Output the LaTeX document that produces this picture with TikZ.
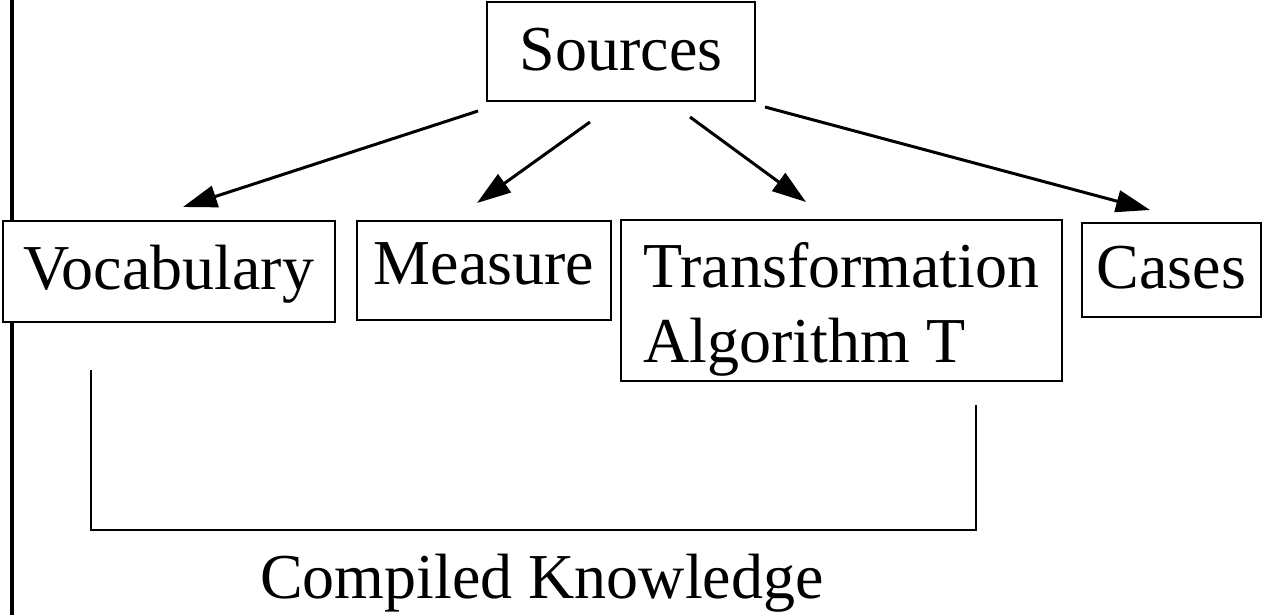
\documentclass[tikz,border=0pt]{standalone}
\usepackage{fontspec}
\setmainfont{Liberation Serif}
\usetikzlibrary{arrows.meta,calc}

\tikzset{
  box/.style={draw, line width=1.3pt, fill=white, outer sep=0pt, inner sep=0pt,
    font=\fontsize{32}{37.5}\selectfont, text height=21pt},
  feed/.style={line width=1.5pt, -{Triangle[length=17pt,width=11pt]}},
  brace/.style={line width=1.2pt},
  rail/.style={line width=2pt},
}

\begin{document}
\begin{tikzpicture}[x=0.5pt, y=-0.5pt]
  \useasboundingbox (0,0) rectangle (1262,615);

  % rail along the left edge
  \coordinate (railtop) at (12,0);
  \coordinate (railbot) at (12,615);
  \draw[rail] (railtop) -- (railbot);

  % source and the four derived parts
  \node[box, minimum width=134pt, minimum height=49.5pt, text depth=1.5pt]
    (src) at (621,51.5) {Sources};
  \node[box, minimum width=166pt, minimum height=50.5pt, text depth=3pt]
    (voc) at (169,271.5) {Vocabulary};
  \node[box, minimum width=127pt, minimum height=49.5pt, text depth=7pt]
    (meas) at (484,270.5) {Measure};
  \node[box, minimum width=220.5pt, minimum height=80.5pt, text height=, text depth=]
    (trans) at (841.5,300.5)
    {\raisebox{-4.5pt}[\height][\depth]{\begin{tabular}{@{}l@{}}Transformation\\Algorithm T\end{tabular}}};
  \node[box, minimum width=89.5pt, minimum height=47pt, text depth=2.5pt]
    (cases) at (1171.5,270) {Cases};

  % arrows from the source
  \draw[feed] ($(src.south)+(-143,10)$) -- ($(voc.north)+(14,-14)$);
  \draw[feed] ($(src.south)+(-31,21)$) -- ($(meas.north)+(-7,-18)$);
  \draw[feed] ($(src.south)+(69,16)$) -- ($(trans.north)+(-35.5,-18)$);
  \draw[feed] ($(src.south)+(144,6)$) -- ($(cases.north)+(-21.5,-13)$);

  % bracket grouping the compiled parts
  \coordinate (kl) at ($(voc.south)+(-78,48)$);
  \coordinate (kr) at ($(trans.south)+(134.5,24)$);
  \draw[brace] (kl) -- (kl |- 0,530) -- (kr |- 0,530) -- (kr);

  \node[inner sep=0pt, font=\fontsize{32}{37.5}\selectfont, text height=21pt, text depth=0pt]
    (ck) at (542,577.5) {Compiled Knowledge};
\end{tikzpicture}
\end{document}
